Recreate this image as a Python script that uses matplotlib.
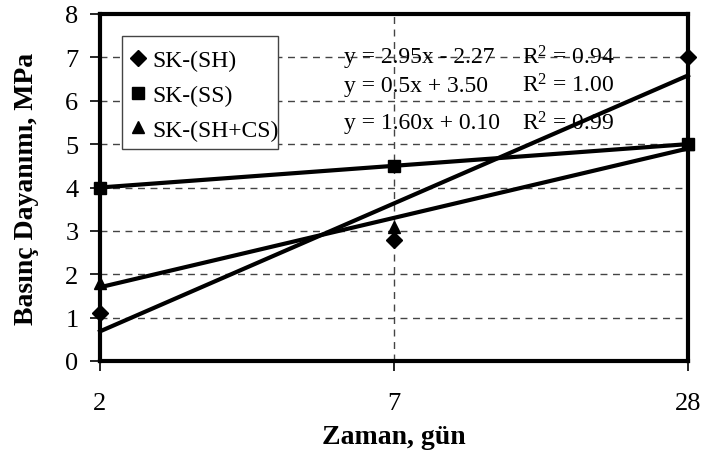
import matplotlib.pyplot as plt
from matplotlib.patches import Rectangle
import numpy as np

plt.rcParams['font.family'] = ['Liberation Serif', 'DejaVu Serif']

# Curing time categories and compressive strength readings
days = ['2', '7', '28']
sh = [1.1, 2.8, 7.0]
ss = [4.0, 4.5, 5.0]
sh_cs = [1.8, 3.1, 5.0]

series = [
    ('SK-(SH)', sh, 'D', 8.5),
    ('SK-(SS)', ss, 's', 8.5),
    ('SK-(SH+CS)', sh_cs, '^', 9),
]

fig = plt.figure(figsize=(7.03, 4.52), dpi=100)
ax = fig.add_axes([100 / 703, 1 - 362 / 452, 588 / 703, 347 / 452])

x = np.arange(1, len(days) + 1)

eq_lines = []
for label, y, mk, ms in series:
    ax.plot(x, y, linestyle='none', marker=mk, markersize=ms, color='black',
            label=label, clip_on=False, zorder=5)
    k, b = np.polyfit(x, y, 1)
    fit = k * x + b
    r2 = 1 - np.sum((np.array(y) - fit) ** 2) / np.sum((np.array(y) - np.mean(y)) ** 2)
    ax.plot(x, fit, color='black', lw=3, zorder=4, clip_on=False)
    eq_lines.append((k, b, r2))

# trendline equations
eq_y = [7.02, 6.36, 5.5]
eq_fmt = ['y = {:.2f}x - {:.2f}', 'y = {:.1f}x + {:.2f}', 'y = {:.2f}x + {:.2f}']
for (k, b, r2), yy, fmt in zip(eq_lines, eq_y, eq_fmt):
    ax.text(1.83, yy, fmt.format(k, abs(b)), fontsize=17, va='center', ha='left', zorder=6)
    ax.text(2.435, yy, '$\\mathregular{{R^2}}$ = {:.2f}'.format(r2), fontsize=17,
            va='center', ha='left', zorder=6)

ax.set_xlim(1, 3)
ax.set_ylim(0, 8)
ax.set_xticks(x)
ax.set_xticklabels(days)
ax.set_yticks(range(0, 9))

ax.grid(True, which='major', axis='y', linestyle=(0, (5, 4)), color='#444444', lw=1)
ax.axvline(2, linestyle=(0, (5, 4)), color='#444444', lw=1, zorder=1)
ax.set_axisbelow(True)

for sp in ax.spines.values():
    sp.set_linewidth(3)
ax.tick_params(axis='both', direction='out', length=7.5, width=1.2, labelsize=19)
ax.tick_params(axis='x', pad=15)
ax.tick_params(axis='y', pad=8)

ax.set_xlabel('Zaman, gün', fontsize=20, fontweight='bold', labelpad=7)
ax.set_ylabel('Basınç Dayanımı, MPa', fontsize=20, fontweight='bold', labelpad=19)

# legend box drawn separately so it can hug the labels on the right
ax.add_patch(Rectangle((22 / 588, 1 - 135 / 347), 156 / 588, 113 / 347,
                       transform=ax.transAxes, facecolor='white',
                       edgecolor='#444444', lw=1, zorder=7))
leg = ax.legend(loc='upper left', bbox_to_anchor=(31 / 588, 1 - 36 / 347),
                fontsize=17, frameon=False, handlelength=0.6,
                handletextpad=0.3, borderpad=0, labelspacing=0.55,
                borderaxespad=0)
leg.set_zorder(8)

fig.savefig('out.png', dpi=100)
